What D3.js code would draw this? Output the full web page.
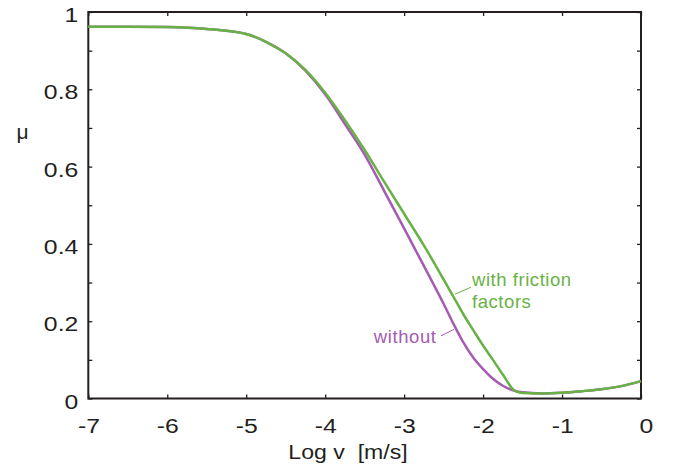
<!DOCTYPE html>
<html>
<head>
<meta charset="utf-8">
<script src="https://cdn.jsdelivr.net/npm/d3@7"></script>
<style>
  html, body { margin: 0; padding: 0; background: #fff; }
  svg { display: block; }
  text { font-family: "Liberation Sans", Arial, Helvetica, sans-serif; fill: #231f20; }
</style>
</head>
<body>
<svg id="chart" width="683" height="475"></svg>
<script>
// Friction coefficient against sliding velocity (log10 of v in m/s)
const logV = [-7, -6.5, -6, -5.5, -5, -4.75, -4.5, -4.25, -4, -3.75, -3.5, -3.25, -3,
              -2.75, -2.5, -2.375, -2.25, -2.125, -2, -1.875, -1.75, -1.6, -1.5, -1.25,
              -1, -0.75, -0.5, -0.25, 0];
const muWithFriction = [0.962, 0.962, 0.961, 0.956, 0.943, 0.923, 0.893, 0.850, 0.791, 0.720,
                        0.643, 0.560, 0.478, 0.396, 0.308, 0.263, 0.218, 0.177, 0.137, 0.100,
                        0.062, 0.020, 0.014, 0.013, 0.015, 0.019, 0.024, 0.032, 0.045];
const muWithout = [0.962, 0.962, 0.961, 0.956, 0.943, 0.923, 0.893, 0.848, 0.787, 0.710,
                   0.631, 0.536, 0.440, 0.343, 0.245, 0.193, 0.145, 0.106, 0.076, 0.051,
                   0.033, 0.020, 0.016, 0.013, 0.015, 0.019, 0.024, 0.032, 0.045];

const xTicks = [-7, -6, -5, -4, -3, -2, -1, 0];
const yTicks = [0, 0.1, 0.2, 0.3, 0.4, 0.5, 0.6, 0.7, 0.8, 0.9, 1];
const yLabelled = [0, 0.2, 0.4, 0.6, 0.8, 1];

const GREEN = "#67b245";
const PURPLE = "#a55bb2";
const INK = "#231f20";

const svg = d3.select("#chart");
const W = 683, H = 475;
const margin = { top: 12, right: 42, bottom: 76.5, left: 88.3 };
const iw = W - margin.left - margin.right;
const ih = H - margin.top - margin.bottom;

const x = d3.scaleLinear().domain([-7, 0]).range([0, iw]);
const y = d3.scaleLinear().domain([0, 1]).range([ih, 0]);

const g = svg.append("g").attr("transform", `translate(${margin.left},${margin.top})`);

const TX = 1.18; // horizontal stretch of the numeric labels
const fmtY = d => (yLabelled.some(v => Math.abs(v - d) < 1e-9) ? d3.format("~g")(d) : "");

// inward ticks on all four sides
const tickLen = -4;
const axLeft = g.append("g").call(d3.axisLeft(y).tickValues(yTicks).tickSizeInner(tickLen).tickSizeOuter(0).tickFormat(fmtY));
const axRight = g.append("g").attr("transform", `translate(${iw},0)`)
  .call(d3.axisRight(y).tickValues(yTicks).tickSizeInner(tickLen).tickSizeOuter(0).tickFormat(""));
const axBottom = g.append("g").attr("transform", `translate(0,${ih})`)
  .call(d3.axisBottom(x).tickValues(xTicks).tickSizeInner(tickLen).tickSizeOuter(0).tickFormat(d3.format("d")));
const axTop = g.append("g")
  .call(d3.axisTop(x).tickValues(xTicks).tickSizeInner(tickLen).tickSizeOuter(0).tickFormat(""));

[axLeft, axRight, axBottom, axTop].forEach(a => {
  a.select(".domain").remove();
  a.selectAll(".tick line").attr("stroke", INK).attr("stroke-width", 1.3);
});

axLeft.selectAll(".tick text")
  .attr("font-size", 21).attr("fill", INK)
  .attr("text-anchor", "end")
  .attr("x", -10 / TX).attr("dy", "0.46em")
  .attr("transform", `scale(${TX},1)`);

axBottom.selectAll(".tick text").each(function (d) {
  const t = d3.select(this);
  t.text(null)
    .attr("font-size", 21).attr("fill", INK)
    .attr("text-anchor", "start")
    .attr("x", -2 / TX).attr("y", 0).attr("dy", 34.8)
    .attr("transform", `scale(${TX},1)`);
  if (d < 0) t.append("tspan").attr("dx", "-0.36em").text("-");
  t.append("tspan").text(Math.abs(d));
});

// plot frame
g.append("rect")
  .attr("x", 0).attr("y", 0).attr("width", iw).attr("height", ih)
  .attr("fill", "none").attr("stroke", INK).attr("stroke-width", 2);

// curves
const line = vals => d3.line()
  .x((d, i) => x(logV[i]))
  .y(d => y(d))
  .curve(d3.curveMonotoneX)(vals);

g.append("path").attr("d", line(muWithout))
  .attr("fill", "none").attr("stroke", PURPLE).attr("stroke-width", 2.5);
g.append("path").attr("d", line(muWithFriction))
  .attr("fill", "none").attr("stroke", GREEN).attr("stroke-width", 2.5);

// annotations with leader lines
g.append("line")
  .attr("x1", x(-2.355)).attr("y1", y(0.270)).attr("x2", x(-2.153)).attr("y2", y(0.288))
  .attr("stroke", GREEN).attr("stroke-width", 1);
const lblWith = g.append("text")
  .attr("x", x(-2.14)).attr("y", y(0.291))
  .attr("font-size", 18.5).attr("letter-spacing", 0.55)
  .style("fill", GREEN);
lblWith.append("tspan").text("with friction");
lblWith.append("tspan").attr("x", x(-2.14)).attr("dy", 22).text("factors");

g.append("line")
  .attr("x1", x(-2.533)).attr("y1", y(0.162)).attr("x2", x(-2.368)).attr("y2", y(0.179))
  .attr("stroke", PURPLE).attr("stroke-width", 1);
g.append("text")
  .attr("x", x(-3.385)).attr("y", y(0.1436))
  .attr("font-size", 18.5).attr("letter-spacing", 0.6)
  .style("fill", PURPLE)
  .text("without");

// axis titles
svg.append("text")
  .attr("x", 0).attr("y", 459)
  .attr("font-size", 21)
  .attr("text-anchor", "middle")
  .attr("transform", `translate(348,0) scale(1.1,1)`)
  .text("Log v\u00a0\u00a0[m/s]");

svg.append("text")
  .attr("x", 22.5).attr("y", 138.5)
  .attr("font-size", 21)
  .attr("text-anchor", "middle")
  .text("μ");
</script>
</body>
</html>
